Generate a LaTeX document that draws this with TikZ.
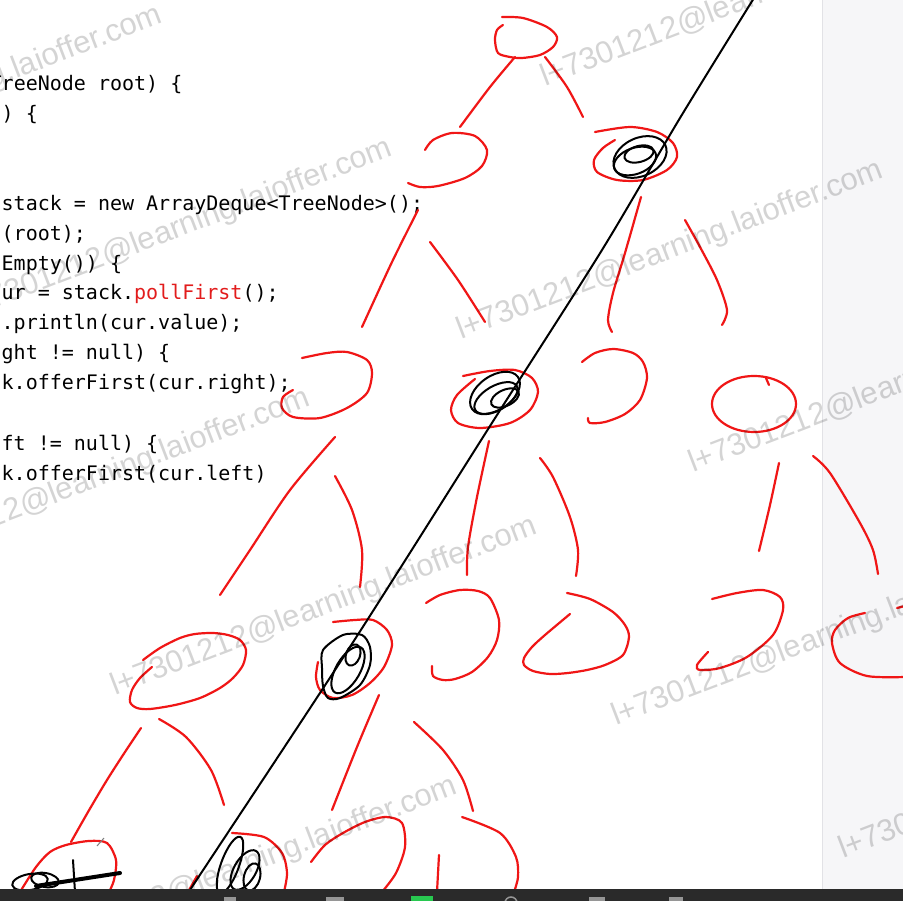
\documentclass[tikz,border=0pt]{standalone}
\usepackage{fontspec}
\setmainfont{Liberation Sans}
\setmonofont{DejaVu Sans Mono}
\usepackage{xcolor}
\usetikzlibrary{positioning}
\definecolor{vermelho}{RGB}{240,22,22}
\definecolor{vermelhocod}{RGB}{226,28,28}
\definecolor{faixa}{RGB}{246,246,248}
\definecolor{bordafaixa}{RGB}{226,226,230}
\definecolor{barra}{RGB}{42,42,42}
\definecolor{icone}{RGB}{150,150,150}
\definecolor{verde}{RGB}{40,200,80}
\tikzset{
  tinta/.style={draw=vermelho, line width=2.2pt, line cap=round, line join=round},
  rabisco/.style={draw=black, line width=2pt, line cap=round, line join=round},
  codigo/.style={anchor=base west, inner sep=0pt, font=\ttfamily\fontsize{20}{24}\selectfont},
  marca/.style={anchor=base west, inner sep=0pt, rotate=21, text=black, text opacity=0.17, font=\fontsize{31}{36}\selectfont},
}

\begin{document}
\begin{tikzpicture}[x=1pt, y=-1pt]
  \useasboundingbox (0,0) rectangle (903,901);
  \clip (0,0) rectangle (903,901);
  \fill[white] (0,0) rectangle (903,901);
  \fill[faixa] (822,0) rectangle (903,901);
  \draw[bordafaixa, line width=1pt] (822,0) -- (822,901);

  % codigo
  \node[codigo] (l1) at (-10.5,91) {TreeNode root) \{};
  \node[codigo] (l2) at (1.5,121) {) \{};
  \node[codigo] (l3) at (1.5,211) {stack = new ArrayDeque<TreeNode>();};
  \node[codigo] (l4) at (1.5,241) {(root);};
  \node[codigo] (l5) at (1.5,271) {Empty()) \{};
  \node[codigo] (l6) at (1.5,300) {ur = stack.\textcolor{vermelhocod}{pollFirst}();};
  \node[codigo] (l7) at (1.5,330) {.println(cur.value);};
  \node[codigo] (l8) at (1.5,360) {ght != null) \{};
  \node[codigo] (l9) at (1.5,390) {k.offerFirst(cur.right);};
  \node[codigo] (l10) at (1.5,450) {ft != null) \{};
  \node[codigo] (l11) at (1.5,480) {k.offerFirst(cur.left)};

  % arvore em vermelho
  \draw[tinta] plot[smooth] coordinates {(502,17) (523,18) (547,27) (557,37) (553,47) (540,55) (522,58) (510,57) (498,53) (495,40) (497,30) (503,25)};
  \draw[tinta] plot[smooth] coordinates {(515,57) (490,87) (460,127)};
  \draw[tinta] plot[smooth] coordinates {(545,57) (567,87) (583,117)};
  % nivel 1
  \draw[tinta] plot[smooth] coordinates {(425,150) (433,140) (452,133) (475,136) (487,150) (482,166) (465,178) (438,186) (420,187) (408,183)};
  \draw[tinta] plot[smooth] coordinates {(595,132) (630,127) (657,132) (673,143) (677,157) (667,170) (643,180) (617,180) (597,172) (594,160) (603,148) (615,140)};
  \draw[tinta] plot[smooth] coordinates {(418,210) (392,262) (362,327)};
  \draw[tinta] plot[smooth] coordinates {(430,242) (458,280) (485,322)};
  \draw[tinta] plot[smooth] coordinates {(641,197) (625,253) (613,293) (608,320) (612,332)};
  \draw[tinta] plot[smooth] coordinates {(685,220) (700,247) (717,280) (727,310) (722,325)};
  % nivel 2
  \draw[tinta] plot[smooth] coordinates {(302,358) (327,353) (347,352) (367,360) (372,373) (367,393) (347,408) (320,418) (293,417) (282,408) (283,397) (293,390)};
  \draw[tinta] plot[smooth] coordinates {(463,376) (490,371) (515,370) (532,378) (538,392) (530,410) (510,423) (480,428) (458,423) (451,410) (457,395) (475,379)};
  \draw[tinta] plot[smooth] coordinates {(582,362) (595,353) (613,349) (633,353) (643,362) (647,378) (640,400) (625,414) (605,422) (590,423) (588,418)};
  \draw[tinta] (754,404) ellipse [x radius=42, y radius=28];
  \draw[tinta] (766,378) -- (769,385);
  \draw[tinta] plot[smooth] coordinates {(335,437) (290,490) (250,550) (220,595)};
  \draw[tinta] plot[smooth] coordinates {(335,476) (352,510) (362,550) (360,587)};
  \draw[tinta] plot[smooth] coordinates {(489,441) (477,497) (468,547) (467,575)};
  \draw[tinta] plot[smooth] coordinates {(540,458) (553,477) (570,517) (578,550) (576,576)};
  \draw[tinta] plot[smooth] coordinates {(779,463) (770,505) (759,551)};
  \draw[tinta] plot[smooth] coordinates {(813,456) (830,473) (860,523) (873,550) (878,574)};
  % nivel 3
  \draw[tinta] plot[smooth] coordinates {(152,667) (140,678) (132,690) (130,702) (137,708) (150,709) (175,705) (200,698) (220,688) (233,678) (243,665) (246,650) (240,640) (228,635) (213,633) (195,634) (180,638) (160,648) (143,660)};
  \draw[tinta] plot[smooth] coordinates {(333,622) (355,620) (373,620) (387,630) (392,645) (384,667) (370,683) (352,695) (333,698) (320,690) (316,677) (318,662)};
  \draw[tinta] plot[smooth] coordinates {(426,603) (440,595) (460,590) (478,591) (490,598) (499,620) (497,640) (488,657) (472,672) (455,679) (443,680) (433,676) (432,666)};
  \draw[tinta] plot[smooth] coordinates {(567,593) (590,599) (613,612) (625,625) (629,637) (623,655) (605,665) (587,670) (568,673) (550,674) (533,671) (524,665) (524,658) (532,647) (545,635) (570,614)};
  \draw[tinta] plot[smooth] coordinates {(712,599) (737,593) (763,590) (780,597) (783,610) (773,635) (747,657) (720,668) (700,670) (697,665) (708,652)};
  \draw[tinta] plot[smooth] coordinates {(865,613) (848,618) (835,630) (832,643) (840,663) (867,676) (905,677)};
  \draw[tinta] (897,608) -- (905,606);
  \draw[tinta] plot[smooth] coordinates {(141,728) (125,752) (107,780) (88,812) (71,842)};
  \draw[tinta] plot[smooth] coordinates {(159,719) (186,737) (211,770) (224,805)};
  \draw[tinta] plot[smooth] coordinates {(379,695) (357,747) (332,810)};
  \draw[tinta] plot[smooth] coordinates {(414,722) (443,750) (463,780) (473,811)};
  % nivel 4
  \draw[tinta] plot[smooth] coordinates {(20,892) (36,867) (50,852) (66,845) (89,841) (107,843) (116,860) (114,880) (109,892)};
  \draw[tinta] plot[smooth] coordinates {(232,833) (264,837) (282,853) (287,873) (284,892)};
  \draw[tinta] (188,892) -- (197,876);
  \draw[tinta] plot[smooth] coordinates {(311,862) (325,845) (343,833) (365,822) (386,817) (402,823) (405,847) (396,873) (382,892)};
  \draw[tinta] plot[smooth] coordinates {(462,817) (500,833) (516,857) (518,877) (514,892)};
  \draw[tinta] plot[smooth] coordinates {(439,855) (437,892)};

  % traco preto e rabiscos
  \draw[rabisco] plot[smooth] coordinates {(754,-2) (680,118) (602,250) (497,415) (348,650) (190,890) (183,902)};
  \draw[rabisco, rotate around={25:(640,157)}] (640,157) ellipse [x radius=28, y radius=19];
  \draw[rabisco, rotate around={20:(635,161)}] (635,161) ellipse [x radius=22, y radius=13];
  \draw[rabisco, rotate around={15:(639,154)}] (639,154) ellipse [x radius=15, y radius=8];
  \draw[rabisco, rotate around={35:(495,393)}] (495,393) ellipse [x radius=28, y radius=17];
  \draw[rabisco, rotate around={30:(496,398)}] (496,398) ellipse [x radius=24, y radius=12];
  \draw[rabisco, rotate around={25:(505,398)}] (505,398) ellipse [x radius=15, y radius=8];
  \draw[rabisco] plot[smooth cycle] coordinates {(323,650) (343,635) (362,635) (370,647) (370,665) (360,685) (340,698) (328,698) (323,686) (322,668)};
  \draw[rabisco, rotate around={-30:(348,670)}] (348,670) ellipse [x radius=12, y radius=26];
  \draw[rabisco, rotate around={-20:(353,655)}] (353,655) ellipse [x radius=7, y radius=11];
  \draw[rabisco, rotate around={10:(30,882)}] (30,882) ellipse [x radius=18, y radius=8];
  \draw[rabisco, rotate around={-10:(45,880)}] (45,880) ellipse [x radius=14, y radius=7];
  \draw[rabisco] (73,860) -- (75,892);
  \draw[rabisco, line width=4pt] (36,886) -- (120,873);
  \draw[rabisco, rotate around={-20:(230,865)}] (230,865) ellipse [x radius=9, y radius=30];
  \draw[rabisco, rotate around={-30:(245,870)}] (245,870) ellipse [x radius=11, y radius=22];
  \draw[rabisco, rotate around={-15:(252,877)}] (252,877) ellipse [x radius=8, y radius=14];
  \draw[gray, line width=1pt] (97,846) -- (104,838);

  % marca d'agua
  \foreach \px/\py [count=\i] in {-260/185, 545/87, -30/318, 461/340, -112/568, 693/473, 115/696, 616/726, 35/956, 843/859}
    \node[marca] (w\i) at (\px,\py) {l+7301212@learning.laioffer.com};

  % barra de tarefas
  \fill[barra] (0,889) rectangle (903,901);
  \fill[icone] (224,897) rectangle (236,901);
  \fill[icone] (326,897) rectangle (344,901);
  \fill[verde] (411,896) rectangle (433,901);
  \draw[icone, line width=1.5pt] (511,903) circle (6);
  \fill[icone] (589,897) rectangle (605,901);
  \fill[icone] (669,897) rectangle (683,901);
\end{tikzpicture}
\end{document}
